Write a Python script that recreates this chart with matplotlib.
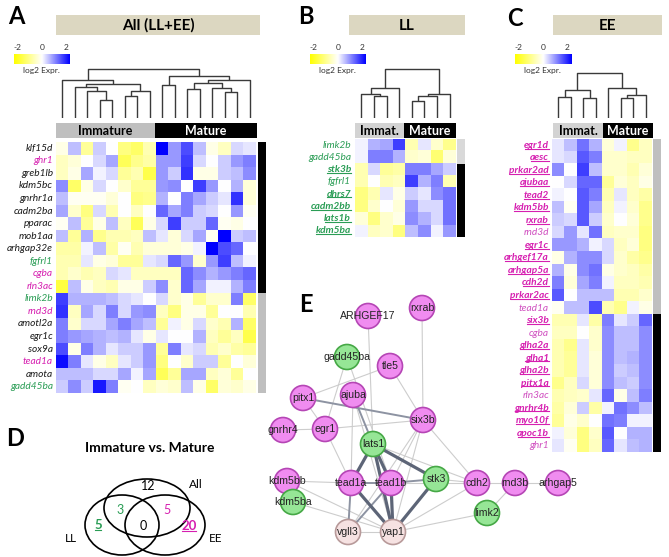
import numpy as np
import matplotlib
matplotlib.use("Agg")
import matplotlib.pyplot as plt
from matplotlib.colors import LinearSegmentedColormap
from matplotlib.patches import Rectangle, Ellipse, Circle

W, H = 669, 557

# ---------------- data ----------------
genes_all = ["klf15d", "ghr1", "greb1lb", "kdm5bc", "gnrhr1a", "cadm2ba", "pparac",
             "mob1aa", "arhgap32e", "fgfrl1", "cgba", "rln3ac", "limk2b", "rnd3d",
             "amotl2a", "egr1c", "sox9a", "tead1a", "amota", "gadd45ba"]
colors_all = ["k", "m", "k", "k", "k", "k", "k", "k", "k", "g", "m", "m", "g", "m",
              "k", "k", "k", "m", "k", "g"]
expr_all = np.array([
    [-0.2, 0.5, -0.8, 0.4, 0.0, -1.0, -1.2, -0.6, 2.0, 0.8, 1.4, 0.5, -0.2, -0.5, 0.3, 0.2],
    [-0.5, -0.3, 0.0, 0.3, 0.7, -1.3, -0.9, -0.7, 0.8, 0.8, 1.5, 0.3, 0.0, 0.4, 0.8, 1.0],
    [-0.5, -0.2, 0.7, 0.1, 0.3, -0.8, -0.6, -1.4, 0.8, 0.4, 1.6, -0.2, -0.2, 0.4, 0.5, 0.9],
    [0.9, -1.2, -0.2, 0.3, 0.0, -0.4, -0.8, -0.8, 0.8, 0.9, 0.0, 1.5, 0.8, 0.0, 0.6, -0.3],
    [0.5, -0.1, -0.1, -0.1, -0.3, 0.0, -1.0, -0.9, 0.6, 0.0, 1.0, 0.7, 0.4, 0.2, 1.6, -0.3],
    [0.7, -0.4, -1.0, 0.3, -0.6, 0.0, -0.5, 0.0, 1.2, 0.7, 1.0, 0.4, 0.3, 0.0, 0.8, -0.1],
    [-0.1, 0.5, -0.8, -0.2, 0.5, -0.5, -1.3, -0.2, 0.3, 1.5, 0.4, 0.4, 1.2, -0.1, -0.2, 0.0],
    [0.5, -0.8, 0.6, -0.9, -0.6, -0.6, -0.5, 0.5, 0.2, -0.3, 0.3, 0.7, -0.1, 2.0, 0.4, 0.5],
    [-0.7, -0.7, 0.1, 0.5, -0.7, -0.1, -0.6, -0.3, -0.3, -0.3, -0.2, 0.1, 2.0, 1.4, 1.2, 0.0],
    [-0.6, -0.6, 0.2, -0.2, -0.3, -0.8, -0.8, 0.2, 0.3, 1.2, 0.8, -0.4, 0.8, 1.5, 0.5, 0.1],
    [-0.6, -0.4, -0.6, -0.5, 0.3, 0.2, -0.5, -0.5, -0.5, -0.5, 1.2, 0.9, 0.6, 0.8, 1.0, 1.2],
    [-1.5, 0.5, -0.2, -0.5, -0.6, -0.2, -0.2, 0.4, 0.9, -0.4, 1.2, 0.7, 0.1, 0.1, 0.6, 1.0],
    [1.5, 0.6, 0.6, 0.6, 0.5, 0.3, 0.2, 0.0, 0.3, -0.4, -0.2, -0.8, -0.4, -0.4, 1.0, -1.2],
    [1.6, -0.5, 0.7, 0.3, 1.0, 0.3, 0.8, 0.9, -0.5, -1.0, -0.2, -0.2, -0.8, 0.0, 0.0, -0.6],
    [1.0, -0.4, 0.3, 0.3, 0.7, 1.0, 0.7, 0.5, -0.8, 0.1, -0.2, 0.3, -0.4, -0.6, 0.6, -1.2],
    [1.0, 0.8, 0.7, 0.6, 0.5, 0.6, 0.2, -0.2, 0.2, 0.0, 0.0, 0.6, -0.5, -0.8, -0.5, -1.4],
    [1.4, -0.2, 1.0, 0.6, 0.2, 0.4, 0.4, 0.8, -0.8, 1.0, 0.2, 0.3, -0.6, -0.4, -0.7, -0.8],
    [1.9, 1.0, 0.2, -0.2, -0.5, 0.2, 0.4, 0.8, -1.0, 0.0, -0.4, 0.4, 0.4, -0.8, 0.0, -0.3],
    [0.5, 0.5, 0.5, 0.3, 0.3, 0.7, 0.1, 0.7, -1.3, -0.8, 0.7, 0.7, -0.5, -0.3, -0.8, 0.0],
    [0.4, 0.9, 0.4, 1.8, 1.0, -0.1, 0.0, -0.5, -0.3, -0.4, 0.5, -0.2, -1.2, -0.3, -0.4, -0.2],
])
n_up_all = 12          # rows up in mature (black side bar)
dendro_all = [(3, 4, 0.38), (2, 16, 0.55), (1, 17, 0.64), (5, 6, 0.46), (19, 7, 0.55),
              (18, 20, 0.71), (0, 21, 0.79), (8, 9, 0.69), (10, 11, 0.60), (13, 14, 0.53),
              (12, 25, 0.62), (24, 26, 0.72), (27, 15, 0.79), (23, 28, 0.86), (22, 29, 1.0)]

genes_ll = ["limk2b", "gadd45ba", "stk3b", "fgfrl1", "dhrs7", "cadm2bb", "lats1b", "kdm5ba"]
under_ll = [False, False, True, False, True, True, True, True]
expr_ll = np.array([
    [0.1, 0.6, 0.7, 1.5, -0.6, 0.2, -0.4, -0.9],
    [0.1, 1.0, 1.0, 0.6, -0.4, -0.3, -1.1, -0.3],
    [-0.6, 0.3, -0.8, -0.7, 1.0, 1.0, 0.7, 0.4],
    [-0.6, 0.0, -0.6, -0.5, 1.5, 0.6, 1.0, -0.6],
    [-1.0, -0.6, 0.2, -0.2, 0.4, 0.2, 0.9, 1.1],
    [-1.0, -0.4, 0.0, -0.3, 0.8, 0.3, 0.3, 1.1],
    [-0.3, -1.0, -0.4, -0.2, 0.9, 0.6, 0.3, 1.1],
    [0.1, -0.5, -0.4, -1.0, 0.5, 0.9, 0.1, 0.8],
])
n_down_ll = 2
dendro_ll = [(1, 2, 0.45), (0, 8, 0.50), (9, 3, 0.62), (4, 5, 0.34), (11, 6, 0.45),
             (12, 7, 0.50), (10, 13, 1.0)]

genes_ee = ["egr1d", "aesc", "prkar2ad", "ajubaa", "tead2", "kdm5bb", "rxrab", "rnd3d",
            "egr1c", "arhgef17a", "arhgap5a", "cdh2d", "prkar2ac", "tead1a", "six3b",
            "cgba", "glha2a", "glha1", "glha2b", "pitx1a", "rln3ac", "gnrhr4b", "myo10f",
            "apoc1b", "ghr1"]
plain_ee = {"rnd3d", "tead1a", "cgba", "rln3ac", "ghr1"}
expr_ee = np.array([
    [0.2, 0.5, 1.1, 0.6, -0.3, 0.1, -0.9, -0.5],
    [0.2, 0.3, 1.3, 1.0, -0.4, -0.4, -0.5, -0.5],
    [0.9, 0.0, 1.5, 0.5, -0.4, -0.4, -0.6, -0.3],
    [0.0, 0.3, 1.2, 1.2, -0.8, -0.3, -0.5, -0.2],
    [0.1, 0.0, 1.3, 1.0, -0.6, 0.2, -0.5, -0.7],
    [0.5, -0.1, 1.3, 0.7, -0.5, 0.1, -0.4, -0.9],
    [0.4, 0.3, 1.3, 0.4, -0.4, 0.0, -0.3, -0.9],
    [0.3, 0.8, 0.2, 1.1, -0.5, -0.4, -0.4, -1.0],
    [0.8, 0.8, 0.6, 0.1, 0.3, -0.5, -0.3, -1.0],
    [-0.2, 0.6, 0.9, 0.9, 0.3, -0.4, -0.7, -0.9],
    [0.6, -0.2, 0.9, 1.1, -0.2, -0.4, -0.5, -0.7],
    [1.0, -0.3, 0.7, 1.0, 0.1, -0.5, -0.5, -0.6],
    [1.3, 0.0, 0.5, 0.5, 0.5, -0.6, -0.6, -0.4],
    [-0.1, 0.5, 0.5, 1.4, -0.6, -0.9, 0.1, -0.2],
    [-0.6, -0.6, 0.2, -0.7, 1.0, 0.2, 0.4, 1.2],
    [-0.5, -0.5, 0.0, -0.4, 0.9, 0.5, 0.5, 0.9],
    [-0.6, -0.9, 0.2, -0.4, 0.9, 0.5, 0.5, 0.9],
    [-0.6, -0.8, 0.2, -0.3, 0.9, 0.5, 0.6, 0.9],
    [-0.6, -0.8, 0.2, -0.3, 0.9, 0.4, 0.5, 0.9],
    [-0.9, -0.5, 0.3, -0.3, 0.9, 0.5, 0.4, 0.9],
    [-0.6, -0.5, -0.4, 0.2, 1.2, -0.2, 0.5, 1.0],
    [-0.7, -0.3, 0.4, -0.7, 0.1, 1.1, 0.9, 0.5],
    [-0.8, -0.2, -0.4, 0.0, 1.1, 1.0, 0.1, 0.1],
    [0.1, -0.3, -1.0, -0.4, 1.3, 0.0, 0.6, 0.6],
    [0.2, -0.1, -1.0, -0.5, 1.2, 0.2, 0.5, 0.6],
])
n_down_ee = 14
dendro_ee = [(0, 1, 0.48), (2, 3, 0.45), (8, 9, 0.62), (5, 6, 0.45), (11, 7, 0.52),
             (4, 12, 0.68), (10, 13, 1.0)]

# Venn counts
venn_counts = {"All": 12, "All&LL": 3, "All&EE": 5, "LL": 5, "EE": 20, "core": 0}

# network
net_nodes = {
    "ARHGEF17": "m", "rxrab": "m", "gadd45ba": "g", "tle5": "m", "pitx1": "m",
    "ajuba": "m", "six3b": "m", "gnrhr4": "m", "egr1": "m", "lats1": "g",
    "kdm5bb": "m", "kdm5ba": "g", "tead1a": "m", "tead1b": "m", "stk3": "g",
    "cdh2": "m", "rnd3b": "m", "arhgap5": "m", "limk2": "g", "vgll3": "p", "yap1": "p",
}
net_edges = [
    ("lats1", "tead1a", 3), ("lats1", "tead1b", 3), ("lats1", "stk3", 3),
    ("lats1", "yap1", 3), ("tead1a", "yap1", 3), ("tead1b", "yap1", 3),
    ("stk3", "yap1", 3), ("tead1a", "tead1b", 2), ("tead1b", "stk3", 2),
    ("ajuba", "lats1", 2), ("pitx1", "six3b", 2), ("vgll3", "tead1a", 2),
    ("vgll3", "tead1b", 2), ("vgll3", "yap1", 1), ("ARHGEF17", "lats1", 1),
    ("rxrab", "six3b", 1), ("gadd45ba", "tead1b", 1), ("gadd45ba", "egr1", 1),
    ("tle5", "six3b", 1), ("tle5", "pitx1", 1), ("pitx1", "egr1", 1),
    ("gnrhr4", "egr1", 1), ("egr1", "six3b", 1), ("egr1", "tead1a", 1),
    ("ajuba", "tead1a", 1), ("ajuba", "yap1", 1), ("six3b", "tead1b", 1),
    ("six3b", "yap1", 1), ("six3b", "vgll3", 1), ("six3b", "cdh2", 1),
    ("lats1", "cdh2", 1), ("cdh2", "rnd3b", 1), ("rnd3b", "arhgap5", 1),
    ("rnd3b", "limk2", 1), ("cdh2", "yap1", 1), ("limk2", "yap1", 1),
    ("kdm5bb", "yap1", 1), ("kdm5ba", "yap1", 1), ("kdm5bb", "tead1a", 1),
    ("tead1b", "cdh2", 1), ("stk3", "cdh2", 1),
]

# ---------------- layout (pixels) ----------------
node_xy = {
    "ARHGEF17": (368, 316), "rxrab": (422, 308), "gadd45ba": (347, 357),
    "tle5": (390, 366), "pitx1": (303, 398), "ajuba": (353, 395), "six3b": (423, 420),
    "gnrhr4": (283, 430), "egr1": (325, 429), "lats1": (373, 444), "kdm5bb": (287, 481),
    "kdm5ba": (293, 502), "tead1a": (351, 483), "tead1b": (391, 483), "stk3": (436, 479),
    "cdh2": (477, 483), "rnd3b": (515, 483), "arhgap5": (558, 483), "limk2": (487, 513),
    "vgll3": (348, 532), "yap1": (393, 532),
}

FONT = ["Lato", "DejaVu Sans"]
plt.rcParams["font.family"] = FONT
MAG = "#d61fb0"
MAG_L = "#d050c0"
GRN = "#2a9d55"
cmap = LinearSegmentedColormap.from_list("ywb", ["#ffff00", "#ffffff", "#0000ff"])

fig = plt.figure(figsize=(W / 100, H / 100), dpi=100)
ax0 = fig.add_axes([0, 0, 1, 1])
ax0.set_xlim(0, W)
ax0.set_ylim(H, 0)
ax0.axis("off")


def pbox(x0, y0, x1, y1):
    return [x0 / W, 1 - y1 / H, (x1 - x0) / W, (y1 - y0) / H]


def heatmap(data, x0, y0, x1, y1):
    ax = fig.add_axes(pbox(x0, y0, x1, y1))
    ax.imshow(data, cmap=cmap, vmin=-2, vmax=2, aspect="auto", interpolation="nearest")
    ax.axis("off")


def dendro(merges, n, x0, y0, x1, y1):
    ax = fig.add_axes(pbox(x0, y0, x1, y1))
    xs = {i: i + 0.5 for i in range(n)}
    hs = {i: 0.0 for i in range(n)}
    for k, (a, b, h) in enumerate(merges):
        ax.plot([xs[a], xs[a], xs[b], xs[b]], [hs[a], h, h, hs[b]],
                color="#3a3a3a", lw=1.0, solid_capstyle="butt")
        xs[n + k] = (xs[a] + xs[b]) / 2
        hs[n + k] = h
    ax.set_xlim(0, n)
    ax.set_ylim(0, 1.03)
    ax.axis("off")


def colorbar(x0, y0):
    ax = fig.add_axes(pbox(x0, y0, x0 + 56, y0 + 10))
    ax.imshow(np.linspace(-2, 2, 200)[None, :], cmap=cmap, aspect="auto")
    ax.axis("off")
    for v, dx in zip([-2, 0, 2], [3, 28, 52]):
        ax0.text(x0 + dx, y0 - 3, str(v), fontsize=6, ha="center", va="bottom", color="#333333")
    ax0.text(x0 + 27, y0 + 16, "log2 Expr.", fontsize=6, ha="center", va="center", color="#333333")


def title_box(x0, x1, label):
    ax0.add_patch(Rectangle((x0, 15), x1 - x0, 20, color="#dcd7c1", lw=0))
    ax0.text((x0 + x1) / 2, 25.5, label, fontsize=11, fontweight="bold", ha="center", va="center")


def group_bar(x0, xm, x1, left_label, left_color):
    ax0.add_patch(Rectangle((x0, 123), xm - x0, 15, color=left_color, lw=0))
    ax0.add_patch(Rectangle((xm, 123), x1 - xm, 15, color="black", lw=0))
    ax0.text((x0 + xm) / 2, 131, left_label, fontsize=9, fontweight="bold", ha="center", va="center")
    ax0.text((xm + x1) / 2, 131, "Mature", fontsize=9, fontweight="bold", ha="center",
             va="center", color="white")


def side_bar(x0, y0, rowh, n_top, n_bot, top_color, bot_color):
    ax0.add_patch(Rectangle((x0, y0), 8, n_top * rowh, color=top_color, lw=0))
    ax0.add_patch(Rectangle((x0, y0 + n_top * rowh), 8, n_bot * rowh, color=bot_color, lw=0))


underlined = []


def row_label(x, y, s, color, bold=False, under=False):
    t = ax0.text(x, y, s, fontsize=7.3, style="italic", fontweight="bold" if bold else "normal",
                 ha="right", va="center", color=color)
    if under:
        underlined.append((t, color))


# panel letters
for letter, (lx, ly) in zip("ABCDE", [(16, 16), (306, 16), (515, 18), (15, 438), (306, 304)]):
    ax0.text(lx, ly, letter, fontsize=17, fontweight="bold", ha="center", va="center")

# ---- panel A ----
title_box(56, 260, "All (LL+EE)")
colorbar(14, 54)
dendro(dendro_all, 16, 56, 68, 256, 118)
group_bar(56, 155, 257, "Immature", "#bfbfbf")
heatmap(expr_all, 56, 142, 256, 393)
rh = (393 - 142) / len(genes_all)
side_bar(258, 142, rh, n_up_all, len(genes_all) - n_up_all, "black", "#bfbfbf")
cmap_txt = {"k": "#1a1a1a", "m": MAG, "g": GRN}
for i, (g, c) in enumerate(zip(genes_all, colors_all)):
    row_label(53, 142 + (i + 0.5) * rh, g, cmap_txt[c])

# ---- panel B ----
title_box(349, 465, "LL")
colorbar(310, 54)
dendro(dendro_ll, 8, 355, 68, 456, 118)
group_bar(355, 404, 456, "Immat.", "#d3d3d3")
heatmap(expr_ll, 355, 139, 456, 237)
rh = (237 - 139) / len(genes_ll)
side_bar(457, 139, rh, n_down_ll, len(genes_ll) - n_down_ll, "#d9d9d9", "black")
for i, (g, u) in enumerate(zip(genes_ll, under_ll)):
    row_label(351, 139 + (i + 0.5) * rh, g, GRN, bold=u, under=u)

# ---- panel C ----
title_box(553, 662, "EE")
colorbar(515, 54)
dendro(dendro_ee, 8, 552, 72, 652, 118)
group_bar(553, 603, 653, "Immat.", "#d3d3d3")
heatmap(expr_ee, 552, 139, 652, 452)
rh = (452 - 139) / len(genes_ee)
side_bar(653, 139, rh, n_down_ee, len(genes_ee) - n_down_ee, "#bfbfbf", "black")
for i, g in enumerate(genes_ee):
    plain = g in plain_ee
    row_label(549, 139 + (i + 0.5) * rh, g, MAG_L if plain else MAG, bold=not plain, under=not plain)

# ---- panel D (Venn) ----
ax0.text(150, 448, "Immature vs. Mature", fontsize=10, fontweight="bold", ha="center", va="center")
for (cx, cy, ew, eh) in [(147, 508, 86, 58), (122, 525, 74, 60), (165, 525, 80, 60)]:
    ax0.add_patch(Ellipse((cx, cy), ew, eh, fill=False, ec="black", lw=1.2))
ax0.text(148, 486, str(venn_counts["All"]), fontsize=9, ha="center", va="center")
ax0.text(120, 510, str(venn_counts["All&LL"]), fontsize=9, ha="center", va="center", color=GRN)
ax0.text(167, 510, str(venn_counts["All&EE"]), fontsize=9, ha="center", va="center", color=MAG)
ax0.text(143, 526, str(venn_counts["core"]), fontsize=9, ha="center", va="center")
t = ax0.text(98, 525, str(venn_counts["LL"]), fontsize=9.5, fontweight="bold", ha="center",
             va="center", color=GRN)
underlined.append((t, GRN))
t = ax0.text(189, 526, str(venn_counts["EE"]), fontsize=9.5, fontweight="bold", ha="center",
             va="center", color=MAG)
underlined.append((t, MAG))
ax0.text(196, 484, "All", fontsize=8.5, ha="center", va="center")
ax0.text(71, 538, "LL", fontsize=8.5, ha="center", va="center")
ax0.text(216, 539, "EE", fontsize=8.5, ha="center", va="center")

# ---- panel E (network) ----
edge_style = {3: ("#5d6577", 2.3), 2: ("#8d93a2", 1.4), 1: ("#cdcdcd", 0.8)}
for a, b, w in sorted(net_edges, key=lambda e: e[2]):
    c, lw = edge_style[w]
    (xa, ya), (xb, yb) = node_xy[a], node_xy[b]
    ax0.plot([xa, xb], [ya, yb], color=c, lw=lw, zorder=1)
node_style = {"m": ("#f08cf0", "#b546b5"), "g": ("#96e696", "#46a846"), "p": ("#f6e2e2", "#b89a9a")}
for name, kind in net_nodes.items():
    fc, ec = node_style[kind]
    ax0.add_patch(Circle(node_xy[name], 12.5, fc=fc, ec=ec, lw=1.2, zorder=2))
for name in net_nodes:
    x, y = node_xy[name]
    ax0.text(x, y, name, fontsize=7.6, family=["Liberation Sans", "DejaVu Sans"],
             ha="center", va="center", color="#222222", zorder=3)

# underlines for bold labels
fig.canvas.draw()
renderer = fig.canvas.get_renderer()
inv = ax0.transData.inverted()
for t, c in underlined:
    bb = t.get_window_extent(renderer)
    (x0, y0), (x1, _) = inv.transform([(bb.x0, bb.y0), (bb.x1, bb.y0)])
    ax0.plot([x0 + 0.5, x1 - 0.5], [y0 - 1.2, y0 - 1.2], color=c, lw=0.8)

fig.savefig("out.png", dpi=100)
